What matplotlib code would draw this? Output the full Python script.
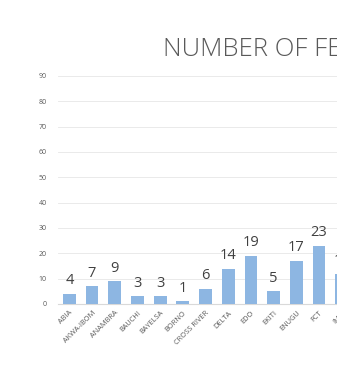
import matplotlib
matplotlib.use("Agg")
import matplotlib.pyplot as plt

categories = ["ABIA", "AKWA-IBOM", "ANAMBRA", "BAUCHI", "BAYELSA", "BORNO",
              "CROSS RIVER", "DELTA", "EDO", "EKITI", "ENUGU", "FCT", "IMO"]
values = [4, 7, 9, 3, 3, 1, 6, 14, 19, 5, 17, 23, 12]
title = "NUMBER OF FE"
yticks = [0, 10, 20, 30, 40, 50, 60, 70, 80, 90]

W, H = 337, 380
fig = plt.figure(figsize=(W / 100, H / 100), dpi=100)
fig.patch.set_facecolor("white")

unit = 22.7
left_px = 58
bottom_px = 76
height_px = 228
nslots = 14
ax = fig.add_axes([left_px / W, bottom_px / H, nslots * unit / W, height_px / H])

x = list(range(len(categories)))
ax.bar(x, values, width=0.56, color="#8DB6E2", zorder=3)
for xi, v in zip(x, values):
    ax.annotate(str(v), (xi, v), xytext=(0, 4), textcoords="offset points",
                ha="center", va="bottom", fontsize=10.5, color="#404040",
                family="Open Sans")

ax.set_xlim(-0.5, nslots - 0.5)
ax.set_ylim(0, 90)
ax.set_yticks(yticks)
ax.set_yticklabels([str(t) for t in yticks], fontsize=5, color="#595959", family="Open Sans")
ax.set_xticks(x)
ax.set_xticklabels(categories, rotation=45, ha="right", rotation_mode="anchor",
                   fontsize=5.3, color="#595959", family="Open Sans")
ax.tick_params(axis="both", length=0)
ax.tick_params(axis="y", pad=8)
ax.tick_params(axis="x", pad=4)
ax.grid(axis="y", color="#E6E6E6", linewidth=0.6, zorder=0)
for s in ["top", "right", "left"]:
    ax.spines[s].set_visible(False)
ax.spines["bottom"].set_color("#D9D9D9")
ax.spines["bottom"].set_linewidth(0.8)

fig.text(163 / W, 1 - 50 / H, title, ha="left", va="center", fontsize=18.5,
         color="#595959", family="Open Sans", fontweight="light")

fig.savefig("out.png", dpi=100)
